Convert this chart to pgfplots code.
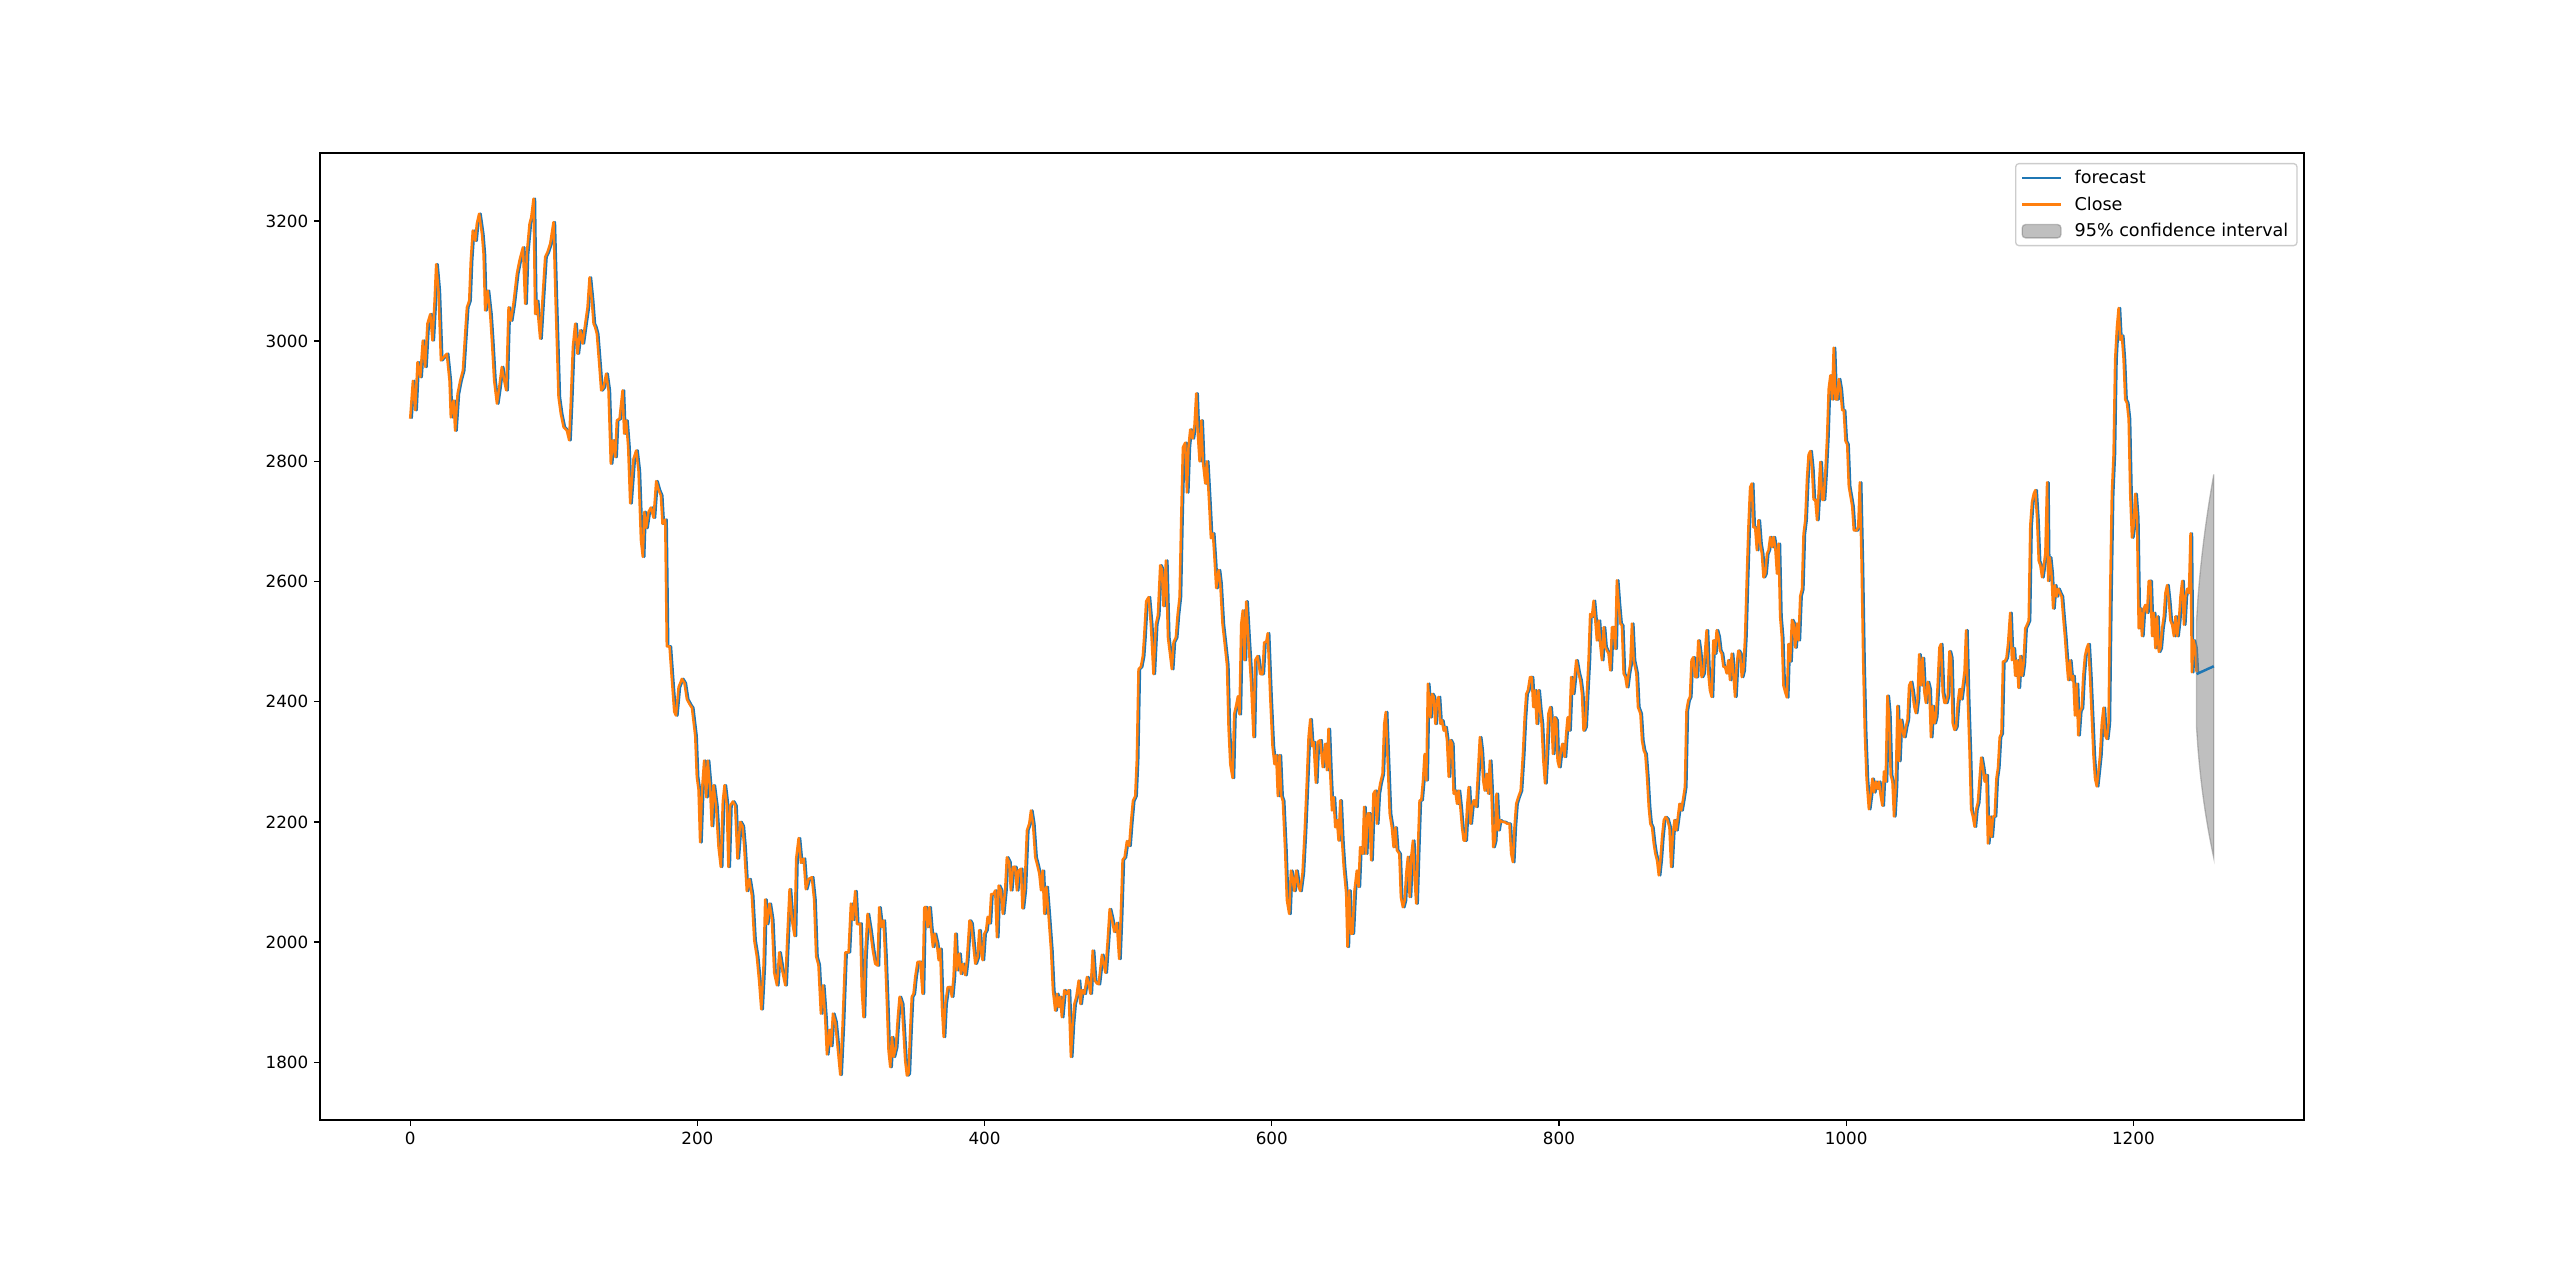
\documentclass[border=0pt]{standalone}
\usepackage{fontspec}
\setmainfont{DejaVu Sans}
\usepackage{pgfplots}
\pgfplotsset{compat=1.18}
\usepackage{pgfplotstable}

\definecolor{mplblue}{HTML}{1F77B4}
\definecolor{mplorange}{HTML}{FF7F0E}
\pgfplotsset{
  linelegend/.style={legend image code/.code={\draw[##1] (0pt,0pt) -- (23.3pt,0pt);}},
  cilegend/.style={legend image code/.code={\draw[##1] (0pt,-4pt) rectangle (23.3pt,4pt);}},
}

\pgfplotstableread{
x y
0 2871
1.9 2934
3.5 2885
5.1 2965
7.0 2940
8.8 3001
10.4 2957
12.0 3029
14.0 3045
15.5 3001
17.0 3067
18.1 3128
19.7 3084
21.4 2968
23.2 2973
25.5 2979
27.4 2934
28.3 2873
30.2 2901
31.3 2851
33.0 2912
34.8 2934
36.7 2951
38.3 3012
39.5 3056
41.1 3067
42.2 3134
43.6 3184
45.3 3167
46.4 3195
48.0 3212
50.0 3178
51.1 3145
52.2 3051
53.9 3084
55.7 3045
56.9 3001
58.5 2934
60.4 2896
62.0 2923
63.8 2957
65.5 2934
66.9 2918
68.5 3056
70.1 3034
71.9 3062
74.3 3112
76.1 3134
78.5 3156
80.1 3062
81.2 3145
83.1 3195
84.3 3206
85.9 3237
87.0 3045
88.2 3067
89.4 3034
90.5 3004
92.4 3079
94.0 3140
95.6 3148
97.5 3162
99.8 3198
101.2 3073
103.3 2907
104.9 2879
106.8 2857
109.1 2851
110.7 2835
111.9 2901
113.3 2990
114.9 3029
116.5 2979
118.4 3018
120.0 2996
121.9 3029
123.5 3056
124.9 3106
126.5 3067
127.7 3029
128.8 3023
130.0 3012
131.8 2957
133.0 2918
134.6 2923
136.5 2946
138.1 2918
139.7 2796
141.1 2835
142.8 2807
143.9 2868
145.8 2871
147.9 2918
149.0 2846
150.4 2868
151.8 2824
153.2 2730
155.5 2804
157.4 2818
159.0 2784
160.7 2669
162.0 2641
163.0 2716
164.3 2689
166.0 2716
167.6 2723
169.5 2706
171.3 2767
172.9 2753
174.6 2743
175.7 2696
177.6 2703
178.7 2492
180.6 2492
182.2 2438
183.9 2383
185.1 2377
186.9 2424
189.2 2438
191.0 2431
192.7 2404
195.0 2394
196.2 2390
198.5 2343
199.6 2275
200.8 2254
201.9 2166
203.1 2248
204.7 2302
206.1 2241
207.2 2302
208.9 2254
210.0 2193
211.2 2261
213.0 2227
214.7 2159
216.3 2125
217.7 2234
218.9 2261
220.5 2227
221.6 2125
222.8 2227
224.7 2234
226.3 2227
227.9 2139
229.8 2200
231.4 2193
232.6 2159
234.4 2085
236.1 2105
237.9 2078
239.6 2003
241.4 1976
243.0 1935
244.5 1888
246.1 1962
247.2 2071
248.4 2030
250.2 2064
251.9 2037
253.5 1949
255.4 1928
257.0 1983
258.8 1956
261.2 1928
262.8 2017
264.2 2088
265.8 2037
267.7 2010
268.8 2139
270.5 2173
272.1 2132
274.0 2139
275.5 2088
277.4 2105
279.7 2108
281.3 2071
282.7 1976
284.3 1962
286.0 1881
287.4 1928
289.0 1874
290.2 1813
291.8 1854
293.0 1827
294.4 1881
296.0 1867
297.6 1827
299.5 1779
301.1 1861
303.0 1983
305.3 1983
306.9 2064
308.3 2037
309.9 2085
311.1 2030
312.9 2030
313.4 2031
314.5 1920
315.7 1875
316.8 1975
318.5 2047
320.3 2020
322.2 1986
323.8 1964
325.5 1961
326.6 2058
328.1 2025
329.6 2036
330.8 1975
332.0 1897
333.1 1820
334.3 1792
335.5 1842
336.6 1809
338.2 1825
339.6 1875
340.8 1909
342.4 1897
343.5 1853
344.7 1803
345.9 1778
347.0 1781
348.2 1853
349.3 1909
350.5 1914
351.7 1942
353.3 1967
355.2 1967
356.8 1914
358.0 2058
359.1 2058
360.3 2025
361.5 2058
362.6 2025
364.0 1992
365.2 2014
366.8 1997
368.0 1970
369.1 1989
370.3 1892
371.5 1842
372.6 1897
374.3 1925
376.2 1925
377.2 1909
378.4 1942
379.6 2014
380.7 1953
382.3 1981
383.5 1947
384.9 1964
386.5 1945
387.7 1970
389.5 2036
390.7 2031
392.3 1992
393.5 1964
395.1 1975
396.3 2020
397.4 1986
398.6 1970
399.8 2014
401.1 2020
402.1 2042
403.4 2031
404.6 2080
406.3 2080
407.4 2086
408.6 2008
409.8 2094
411.3 2086
412.7 2047
414.3 2086
415.5 2141
417.1 2133
418.3 2086
419.7 2125
421.3 2125
422.5 2086
423.6 2119
425.3 2122
426.4 2056
427.8 2086
429.5 2186
431.1 2197
432.3 2219
433.7 2197
435.3 2141
436.5 2130
438.1 2114
439.3 2086
440.4 2119
441.6 2047
443.0 2092
444.6 2042
446.3 1986
447.6 1920
449.2 1886
450.4 1914
451.5 1892
452.7 1909
453.8 1875
455.5 1920
456.9 1914
458.5 1920
460.1 1809
461.3 1864
462.5 1897
463.9 1909
465.5 1936
466.7 1897
467.8 1920
469.5 1914
471.3 1942
472.5 1931
473.7 1914
475.3 1986
476.7 1936
478.3 1931
479.4 1930
481.7 1979
484.1 1949
485.7 2002
487.1 2055
488.6 2039
490.3 2017
492.1 2032
493.7 1972
494.9 2047
496.1 2137
497.5 2141
499.1 2168
500.7 2160
501.9 2198
503.3 2235
504.9 2243
506.0 2303
507.2 2454
508.8 2458
510.2 2476
511.1 2507
512.5 2567
514.2 2574
515.8 2529
517.6 2446
519.3 2529
520.7 2544
522.3 2627
523.5 2620
524.6 2559
526.3 2635
527.7 2507
529.3 2476
530.4 2454
531.6 2499
533.2 2507
534.4 2544
535.8 2574
536.9 2702
538.1 2823
539.7 2831
540.9 2748
542.0 2823
543.2 2853
544.8 2838
546.2 2861
547.4 2913
548.3 2853
549.7 2800
550.9 2868
552.0 2800
553.7 2763
554.8 2800
556.5 2725
557.6 2672
559.0 2680
560.2 2635
561.3 2589
563.0 2619
564.1 2597
565.7 2529
567.1 2499
568.8 2461
569.9 2356
571.1 2296
572.7 2273
573.8 2379
575.2 2394
576.4 2409
577.5 2379
578.7 2529
579.8 2552
581.0 2469
582.2 2567
583.8 2499
585.6 2431
587.3 2341
588.4 2469
590.1 2476
591.9 2446
593.5 2446
594.7 2499
596.1 2499
597.2 2514
598.9 2409
600.5 2326
601.9 2296
603.1 2311
604.2 2243
605.4 2311
606.6 2243
607.7 2235
609.3 2152
610.5 2070
612.1 2047
613.3 2119
614.5 2107
615.6 2085
617.0 2119
618.6 2092
619.8 2085
621.4 2115
622.9 2183
624.5 2273
625.6 2341
626.8 2371
628.0 2326
629.1 2333
630.7 2265
631.9 2333
633.7 2336
635.5 2291
637.2 2330
638.4 2286
639.5 2355
640.7 2280
641.9 2219
643.0 2241
644.2 2191
645.4 2203
646.5 2169
647.7 2236
648.9 2169
650.1 2125
651.8 2081
652.7 1992
653.9 2086
655.1 2014
656.2 2014
657.6 2086
659.2 2119
660.4 2092
661.5 2158
663.2 2147
664.3 2225
665.5 2147
666.7 2214
668.0 2214
669.2 2136
670.8 2247
672.0 2252
673.2 2197
674.3 2247
675.5 2264
677.1 2280
678.3 2363
679.4 2383
680.6 2308
682.1 2214
683.6 2191
684.8 2158
686.0 2191
687.1 2153
688.8 2147
689.9 2075
691.3 2058
692.5 2069
693.6 2114
694.8 2142
696.0 2075
697.1 2142
698.3 2169
699.5 2103
700.6 2064
701.8 2158
702.9 2236
704.1 2236
705.3 2269
706.4 2313
707.6 2269
708.7 2430
710.4 2374
711.5 2413
712.7 2408
713.9 2363
715.0 2402
716.2 2408
717.4 2363
718.5 2369
719.7 2352
720.8 2358
722.0 2336
723.2 2275
724.3 2336
725.5 2330
726.6 2247
727.8 2252
729.0 2230
730.1 2252
731.3 2225
732.5 2191
733.6 2169
734.8 2169
736.0 2225
737.1 2258
738.3 2197
739.4 2225
740.6 2236
742.3 2225
743.3 2269
744.9 2341
746.0 2319
747.2 2269
748.3 2252
749.5 2280
750.7 2247
751.9 2302
753.0 2247
754.2 2158
755.4 2169
756.5 2247
757.7 2186
758.8 2203
760.4 2200
762.0 2200
763.9 2197
765.5 2197
766.7 2147
767.9 2133
769.0 2191
770.2 2230
771.6 2241
773.3 2252
774.9 2313
776.1 2374
777.2 2413
778.4 2419
779.8 2441
781.0 2441
782.1 2391
783.3 2419
784.5 2363
785.6 2419
786.8 2386
787.9 2363
789.1 2302
790.3 2264
791.4 2313
792.6 2380
793.9 2391
795.0 2358
795.8 2313
796.9 2374
798.1 2369
799.0 2302
800.1 2291
801.3 2319
802.4 2330
803.9 2308
805.0 2347
806.0 2374
807.1 2352
808.5 2441
809.7 2413
810.9 2441
812.0 2469
813.6 2447
814.8 2436
816.0 2413
817.1 2352
818.3 2358
819.4 2413
820.6 2469
821.7 2546
822.9 2541
824.1 2568
825.3 2535
826.4 2502
827.6 2535
828.7 2496
829.9 2469
831.1 2524
832.2 2491
833.4 2485
834.5 2480
835.7 2452
836.9 2524
838.0 2524
839.2 2488
840.3 2602
841.5 2563
842.7 2530
843.8 2527
845.0 2447
846.2 2441
847.3 2424
848.5 2447
849.7 2463
850.8 2530
852.0 2469
853.9 2447
855.0 2391
856.7 2380
857.8 2336
859.0 2319
860.1 2313
861.3 2275
862.5 2225
863.6 2197
864.8 2191
866.0 2164
867.1 2147
868.3 2136
869.5 2111
870.6 2136
871.8 2175
873.0 2203
874.1 2208
875.3 2205
876.9 2191
878.1 2125
879.3 2180
880.4 2203
881.6 2186
882.8 2208
883.9 2230
885.1 2219
886.3 2236
887.7 2258
888.8 2385
890.0 2402
891.2 2408
892.3 2469
893.5 2474
894.7 2441
895.8 2441
897.0 2502
898.2 2480
899.3 2441
900.5 2447
901.6 2480
902.8 2519
904.0 2447
905.1 2419
906.3 2408
907.5 2502
908.6 2480
909.8 2519
911.0 2508
912.1 2485
913.3 2480
914.5 2458
915.6 2458
916.8 2447
917.9 2469
919.1 2436
920.3 2480
921.4 2447
922.6 2408
923.8 2463
924.9 2485
926.1 2480
927.3 2441
928.4 2452
929.6 2508
930.8 2607
931.9 2690
933.1 2757
934.3 2763
935.4 2690
936.6 2690
937.8 2652
938.9 2702
940.1 2663
941.3 2646
942.4 2607
943.6 2613
944.8 2646
945.9 2652
947.1 2674
948.3 2657
949.4 2674
950.6 2657
951.8 2613
952.9 2663
954.0 2542
955.2 2507
956.3 2427
957.5 2416
958.7 2407
959.8 2496
961.0 2467
962.2 2536
963.3 2530
964.5 2490
965.7 2530
966.8 2502
968.0 2576
969.2 2587
970.3 2679
971.5 2702
972.7 2771
973.8 2811
975.0 2817
976.2 2788
977.3 2736
978.5 2736
979.7 2702
980.8 2748
982.0 2799
983.2 2736
984.3 2736
985.5 2782
986.7 2840
987.8 2920
989.0 2943
990.2 2903
991.3 2989
992.5 2903
993.7 2903
994.8 2937
996.0 2920
997.2 2885
998.3 2885
999.5 2834
1000.7 2828
1001.8 2759
1003.0 2742
1004.2 2725
1005.3 2685
1007.2 2685
1008.4 2691
1009.5 2765
1010.7 2633
1011.9 2461
1013.0 2347
1014.2 2272
1015.8 2221
1017.0 2244
1018.2 2272
1019.3 2249
1020.5 2267
1021.7 2255
1022.8 2267
1024.0 2244
1025.2 2227
1026.3 2284
1027.5 2267
1028.7 2410
1029.8 2381
1031.0 2278
1032.2 2267
1033.3 2209
1034.5 2261
1035.7 2393
1036.8 2301
1038.0 2370
1039.2 2353
1040.3 2341
1041.5 2358
1042.7 2370
1043.8 2427
1045.0 2433
1046.2 2416
1047.3 2393
1048.5 2381
1049.7 2404
1050.8 2479
1052.0 2427
1053.2 2473
1054.4 2416
1055.5 2398
1056.7 2433
1057.9 2421
1059.0 2341
1060.2 2393
1061.4 2364
1062.5 2375
1063.7 2427
1064.9 2490
1066.0 2496
1067.2 2416
1068.4 2398
1069.5 2398
1070.7 2410
1071.9 2484
1073.0 2473
1074.2 2364
1075.4 2353
1076.5 2358
1077.7 2398
1078.9 2421
1080.0 2404
1081.2 2427
1082.4 2450
1083.5 2519
1084.7 2404
1085.9 2318
1087.0 2221
1088.2 2209
1089.4 2192
1090.5 2221
1091.7 2232
1092.9 2272
1094.0 2307
1095.2 2290
1096.4 2267
1097.6 2278
1098.7 2164
1099.9 2209
1101.1 2175
1102.2 2209
1103.4 2209
1104.6 2272
1105.7 2290
1106.9 2341
1108.1 2347
1109.2 2467
1110.4 2467
1111.6 2473
1112.7 2496
1114.2 2548
1115.4 2469
1116.5 2489
1117.7 2443
1118.9 2469
1120.0 2423
1121.2 2476
1122.4 2443
1123.5 2463
1124.7 2522
1125.9 2528
1127.1 2535
1128.2 2693
1129.4 2732
1130.6 2746
1131.7 2752
1132.9 2706
1134.1 2634
1135.2 2627
1136.4 2607
1137.6 2627
1138.7 2647
1139.9 2765
1140.6 2601
1141.8 2640
1142.9 2614
1144.1 2555
1145.3 2594
1146.5 2575
1147.6 2588
1148.8 2581
1150.0 2575
1151.1 2542
1152.3 2509
1153.5 2469
1154.6 2436
1155.8 2469
1157.0 2436
1158.1 2443
1159.3 2377
1160.5 2430
1161.6 2344
1162.8 2384
1164.0 2390
1165.1 2443
1166.3 2476
1167.5 2489
1168.6 2496
1169.8 2443
1171.0 2377
1172.2 2311
1173.3 2272
1174.5 2259
1175.7 2285
1176.8 2311
1178.0 2364
1179.2 2390
1180.3 2344
1181.5 2338
1182.7 2364
1183.8 2575
1185.0 2746
1186.2 2811
1187.3 2969
1188.5 3022
1189.7 3055
1190.8 3002
1192.0 3009
1193.2 2969
1194.3 2903
1195.5 2897
1196.7 2871
1197.8 2746
1199.0 2673
1200.2 2693
1201.3 2746
1202.5 2706
1203.7 2522
1204.8 2555
1206.0 2509
1207.2 2555
1208.3 2561
1209.5 2548
1210.7 2601
1211.8 2601
1213.0 2509
1214.2 2548
1215.3 2489
1216.5 2542
1217.7 2483
1218.8 2489
1220.0 2522
1221.2 2542
1222.3 2581
1223.5 2594
1224.7 2568
1225.8 2535
1227.0 2528
1228.2 2509
1229.3 2542
1230.5 2509
1231.7 2535
1232.8 2575
1234.0 2601
1235.2 2528
1236.3 2575
1237.5 2588
1238.7 2581
1239.8 2680
1240.7 2449
1241.9 2502
1243.1 2489
1244.0 2449
}\closedata

\begin{document}
\begin{tikzpicture}
\path (0,0) rectangle (1541.76pt,770.88pt);
\begin{axis}[
  at={(192.72pt,96.36pt)}, anchor=south west,
  scale only axis, width=1194.86pt, height=582.37pt,
  xmin=-62.8, xmax=1318.8, ymin=1704, ymax=3313,
  xtick={0,200,...,1200}, ytick={1800,2000,...,3200},
  tick pos=left, tick align=outside, major tick length=3.5pt,
  every tick/.style={black, line width=0.8pt},
  axis line style={line width=0.8pt},
  ticklabel style={font=\fontsize{10.1}{12}\selectfont},
  /pgf/number format/1000 sep={},
  /pgf/number format/assume math mode=true,
  scaled ticks=false,
  legend cell align=left,
  legend style={
    at={(rel axis cs:1,1)}, anchor=north east, xshift=-3.8pt, yshift=-6pt,
    draw=black!20, fill=white, rounded corners=2pt, line width=0.8pt,
    font=\fontsize{10.6}{12.5}\selectfont,
    inner xsep=3.2pt, inner ysep=0.7pt, row sep=0pt, column sep=5.5pt,
    nodes={inner xsep=2pt, inner ysep=3.6pt, text height=7.8pt, text depth=1pt},
  },
]
\addplot[mplblue, line width=1.5pt, line join=round, linelegend] table[x expr=\thisrow{x}+1, y=y] {\closedata};
\addlegendentry{forecast}
\addplot[mplorange, line width=1.5pt, line join=round, linelegend] table[x=x, y=y] {\closedata};
\addlegendentry{Close}
\addplot[fill=gray, fill opacity=0.5, draw=gray, draw opacity=0.5, line width=0.8pt, cilegend] coordinates {
  (1244,2534.5) (1245,2573.3) (1246,2601.5) (1247,2626.3) (1248,2648.2) (1249,2668.2) (1250,2686.7)
  (1251,2703.9) (1252,2720.2) (1253,2735.7) (1254,2750.3) (1255,2764.5) (1256,2778.1)
  (1256,2139.9) (1255,2151.3) (1254,2163.3) (1253,2175.9) (1252,2189.2) (1251,2203.3) (1250,2218.3)
  (1249,2234.6) (1248,2252.4) (1247,2272.3) (1246,2294.9) (1245,2321.9) (1244,2357.5)
} -- cycle;
\addlegendentry{95\% confidence interval}
\addplot[mplblue, line width=1.5pt, line join=round, forget plot] coordinates {
  (1244,2446.0) (1245,2447.1) (1246,2448.2) (1247,2449.3) (1248,2450.3) (1249,2451.4) (1250,2452.5)
  (1251,2453.6) (1252,2454.7) (1253,2455.8) (1254,2456.8) (1255,2457.9) (1256,2459.0)
};
\end{axis}
\end{tikzpicture}
\end{document}
